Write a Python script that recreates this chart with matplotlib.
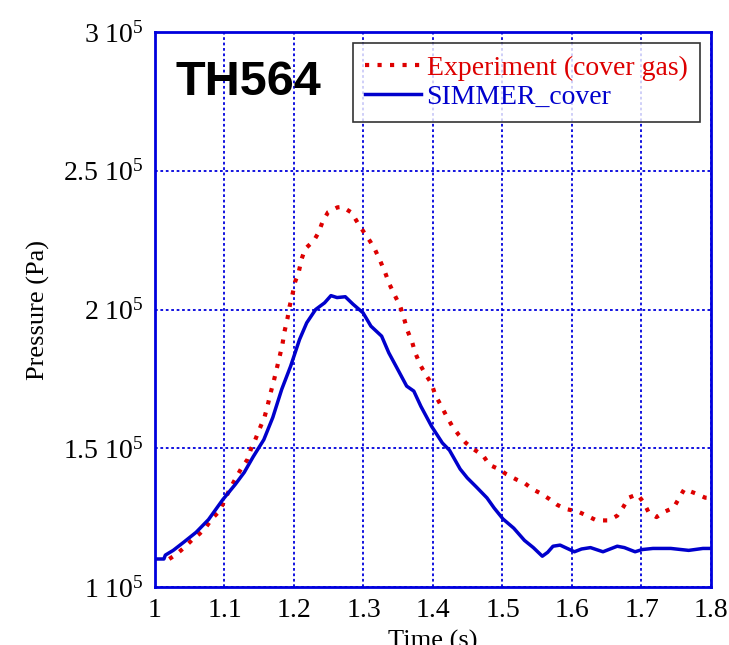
import matplotlib
matplotlib.use("Agg")
import matplotlib.pyplot as plt
from matplotlib.ticker import FixedLocator, FuncFormatter

plt.rcParams['font.family'] = ['Liberation Serif', 'DejaVu Serif']
plt.rcParams['mathtext.fontset'] = 'custom'
plt.rcParams['mathtext.rm'] = 'Liberation Serif'
plt.rcParams['mathtext.it'] = 'Liberation Serif:italic'

# experiment (cover gas), time in s, pressure in 1e5 Pa
exp_t = [1.0205, 1.0308, 1.0411, 1.0539, 1.0642, 1.0734, 1.0827, 1.093, 1.1063, 1.1166,
         1.1248, 1.133, 1.1382, 1.1443, 1.1505, 1.1577, 1.1618, 1.1659, 1.171, 1.1751,
         1.1792, 1.1834, 1.1864, 1.1905, 1.1936, 1.1977, 1.2018, 1.207, 1.2111, 1.2162,
         1.2286, 1.2357, 1.2409, 1.2491, 1.2625, 1.2696, 1.283, 1.2922, 1.3005, 1.3097,
         1.3169, 1.3241, 1.3313, 1.3374, 1.3446, 1.3528, 1.358, 1.3631, 1.3703, 1.3744,
         1.3826, 1.3898, 1.398, 1.4032, 1.4104, 1.4186, 1.4278, 1.4371, 1.4474, 1.4576,
         1.472, 1.4813, 1.4946, 1.5059, 1.5203, 1.5326, 1.5429, 1.5552, 1.5675, 1.5788,
         1.5912, 1.6086, 1.623, 1.6353, 1.6528, 1.6651, 1.6733, 1.6816, 1.6939, 1.7031,
         1.7103, 1.7216, 1.7339, 1.7463, 1.7545, 1.7617, 1.7781, 1.7915, 1.80]
exp_p = [1.101, 1.118, 1.140, 1.171, 1.192, 1.216, 1.248, 1.274, 1.346, 1.394,
         1.430, 1.459, 1.498, 1.531, 1.570, 1.613, 1.651, 1.695, 1.743, 1.786,
         1.829, 1.875, 1.921, 1.966, 2.010, 2.053, 2.101, 2.137, 2.183, 2.219,
         2.248, 2.279, 2.315, 2.351, 2.368, 2.370, 2.349, 2.310, 2.279, 2.245,
         2.214, 2.175, 2.132, 2.091, 2.053, 2.012, 1.971, 1.925, 1.880, 1.844,
         1.796, 1.764, 1.733, 1.692, 1.659, 1.620, 1.579, 1.548, 1.519, 1.498,
         1.474, 1.440, 1.425, 1.406, 1.387, 1.373, 1.353, 1.337, 1.317, 1.296,
         1.281, 1.272, 1.255, 1.240, 1.240, 1.257, 1.286, 1.322, 1.334, 1.305,
         1.269, 1.252, 1.272, 1.286, 1.322, 1.353, 1.337, 1.322, 1.320]

# SIMMER_cover
sim_t = [1.000, 1.0128, 1.0149, 1.0262, 1.0411, 1.0591, 1.077, 1.0976, 1.1156, 1.1284,
         1.1412, 1.1566, 1.1695, 1.1823, 1.1952, 1.208, 1.2183, 1.2311, 1.244, 1.2532,
         1.2619, 1.2738, 1.285, 1.2994, 1.3107, 1.3261, 1.3364, 1.3493, 1.3621, 1.3724,
         1.3826, 1.398, 1.4135, 1.4237, 1.4391, 1.4494, 1.4622, 1.4777, 1.4879, 1.5008,
         1.5162, 1.5316, 1.5444, 1.5573, 1.565, 1.5727, 1.5829, 1.5932, 1.6035, 1.6138,
         1.6266, 1.6446, 1.6651, 1.6754, 1.6908, 1.7011, 1.7165, 1.7422, 1.7679, 1.7884,
         1.80]
sim_p = [1.101, 1.101, 1.115, 1.132, 1.161, 1.197, 1.243, 1.315, 1.370, 1.413,
         1.469, 1.531, 1.611, 1.712, 1.796, 1.892, 1.952, 2.000, 2.024, 2.050,
         2.043, 2.046, 2.019, 1.988, 1.940, 1.904, 1.844, 1.784, 1.724, 1.706,
         1.651, 1.579, 1.519, 1.493, 1.425, 1.393, 1.361, 1.321, 1.285, 1.245,
         1.212, 1.168, 1.142, 1.111, 1.125, 1.147, 1.151, 1.139, 1.127, 1.137,
         1.142, 1.127, 1.147, 1.142, 1.127, 1.135, 1.139, 1.139, 1.132, 1.139,
         1.139]

xticks = [1, 1.1, 1.2, 1.3, 1.4, 1.5, 1.6, 1.7, 1.8]
yticks = [1.0, 1.5, 2.0, 2.5, 3.0]

fig = plt.figure(figsize=(7.29, 6.45), dpi=100)
ax = fig.add_axes([0.2126, 0.0899, 0.7627, 0.8605])

ax.plot(exp_t, [p * 1e5 for p in exp_p], color='#dd0000', lw=3.0,
        linestyle=(0, (1.0, 2.0)), dash_capstyle='butt', label='Experiment (cover gas)')
ax.plot(sim_t, [p * 1e5 for p in sim_p], color='#0000cc', lw=2.5,
        label='SIMMER_cover')

ax.set_xlim(1, 1.8)
ax.set_ylim(1e5, 3e5)
ax.xaxis.set_major_locator(FixedLocator(xticks))
ax.yaxis.set_major_locator(FixedLocator([v * 1e5 for v in yticks]))
ax.xaxis.set_major_formatter(FuncFormatter(lambda v, pos: '%g' % v))
ax.yaxis.set_major_formatter(FuncFormatter(lambda v, pos: '%g 10$^{5}$' % (v / 1e5)))

ax.grid(True, color='#0000dd', linestyle=(0, (1.5, 1.5)), lw=1.3)
for s in ax.spines.values():
    s.set_color('#0000dd')
    s.set_linewidth(2)
ax.tick_params(direction='in', length=0, labelsize=20, pad=8, colors='black')

ax.set_ylabel('Pressure (Pa)', fontsize=19, labelpad=10)
ax.set_xlabel('Time (s)', fontsize=19, labelpad=5)

ax.text(0.036, 0.886, 'TH564', transform=ax.transAxes, fontsize=35,
        fontweight='bold', family='Liberation Sans', va='baseline', ha='left')

leg = ax.legend(loc='upper right', fontsize=20, frameon=True, fancybox=False,
                borderpad=0.45, handlelength=2.0, handletextpad=0.2,
                labelspacing=0.12, borderaxespad=0.4)
leg.get_frame().set_edgecolor('black')
leg.get_frame().set_linewidth(1.2)
for txt, c in zip(leg.get_texts(), ['#dd0000', '#0000cc']):
    txt.set_color(c)

fig.savefig('out.png', dpi=100)
